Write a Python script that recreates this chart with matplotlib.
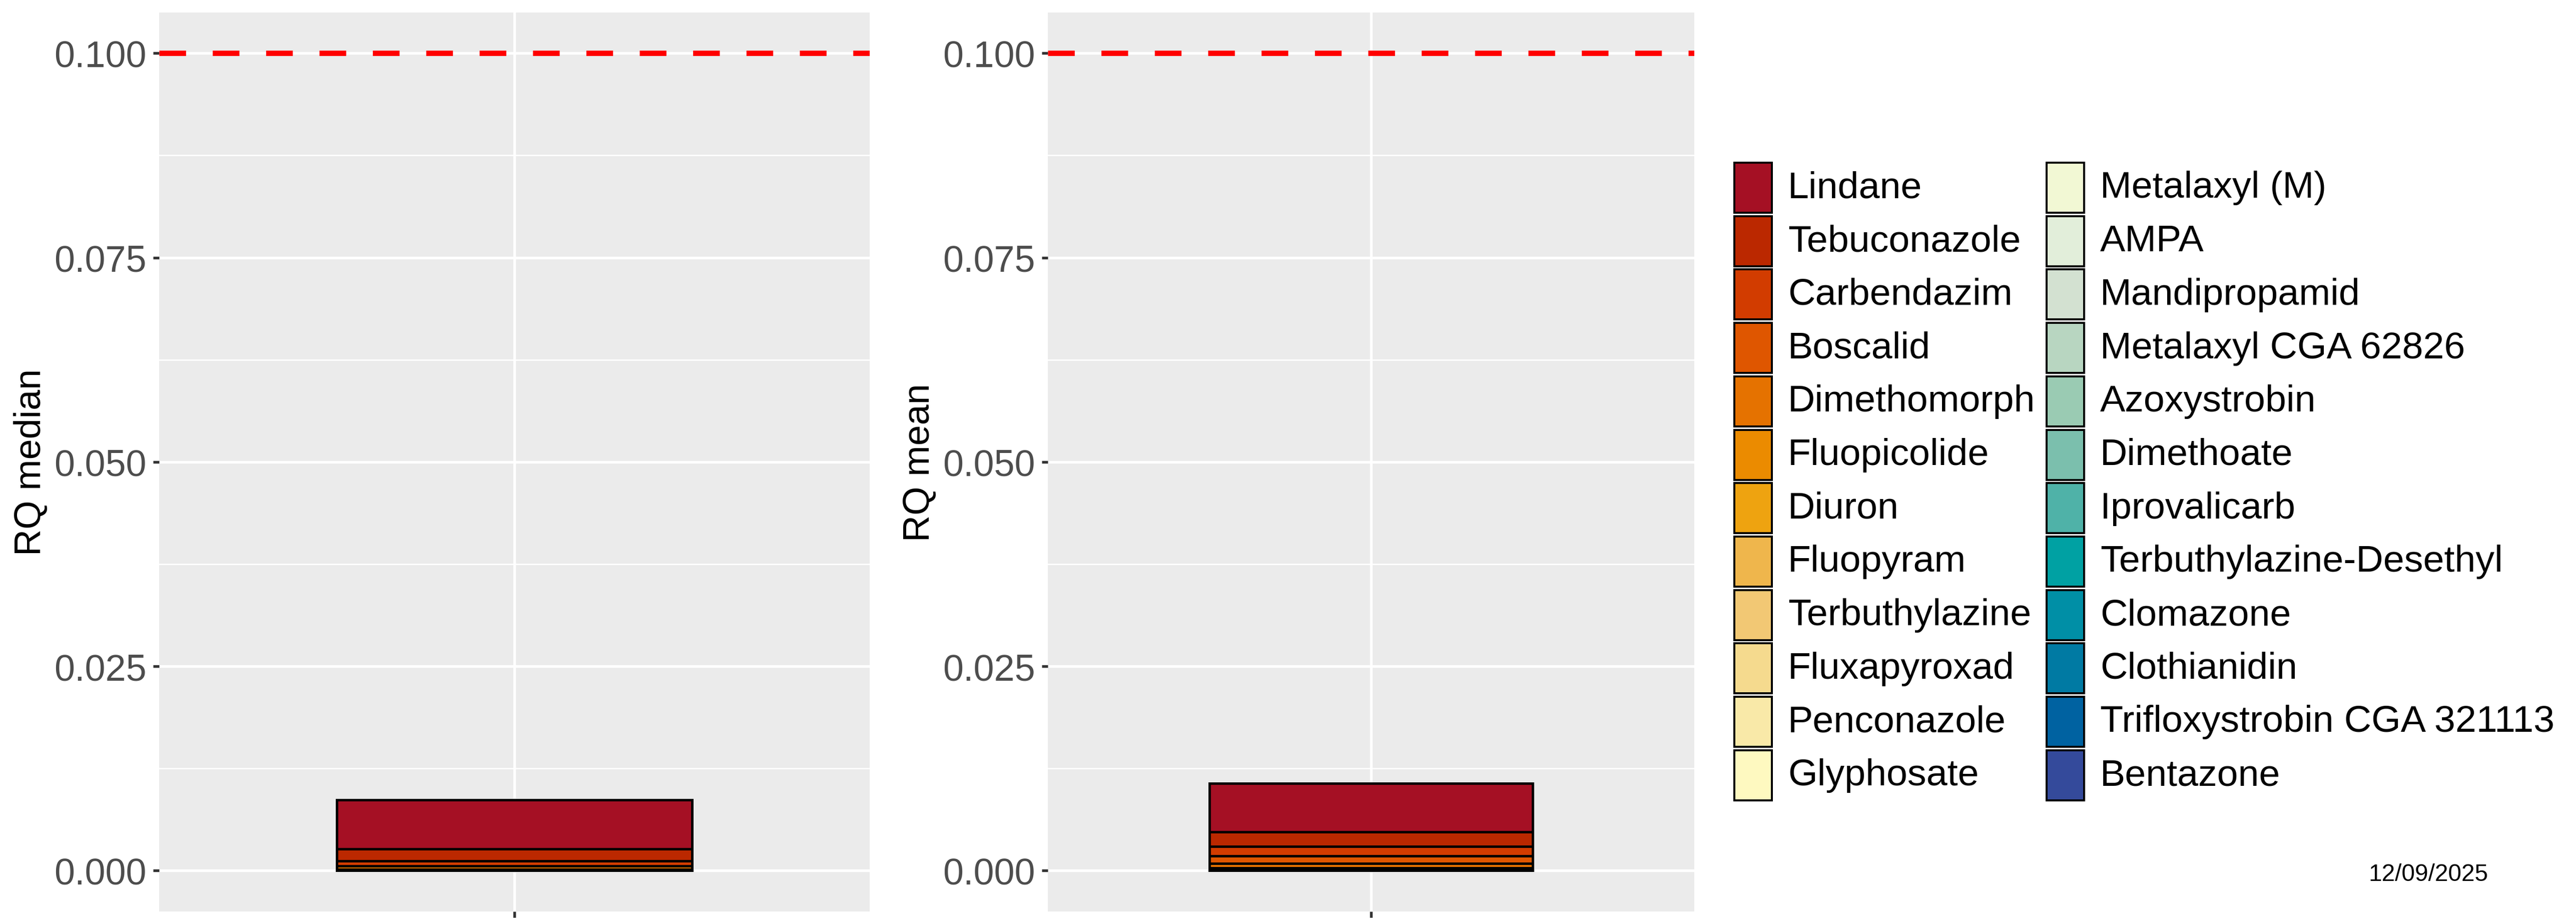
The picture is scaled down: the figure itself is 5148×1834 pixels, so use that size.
import numpy as np
import matplotlib.pyplot as plt
from matplotlib.patches import Rectangle

plt.rcParams['font.family'] = ['Liberation Sans', 'DejaVu Sans']

# legend order (top of the stack first)
compounds = [
    "Lindane", "Tebuconazole", "Carbendazim", "Boscalid", "Dimethomorph",
    "Fluopicolide", "Diuron", "Fluopyram", "Terbuthylazine", "Fluxapyroxad",
    "Penconazole", "Glyphosate", "Metalaxyl (M)", "AMPA", "Mandipropamid",
    "Metalaxyl CGA 62826", "Azoxystrobin", "Dimethoate", "Iprovalicarb",
    "Terbuthylazine-Desethyl", "Clomazone", "Clothianidin",
    "Trifloxystrobin CGA 321113", "Bentazone",
]
colours = [
    "#A51024", "#BB2800", "#D23C00", "#DF5600", "#E57200",
    "#EB8B00", "#EEA310", "#EFB64C", "#F2C874", "#F5DA8E",
    "#F9E9A8", "#FEF9C0", "#F2F8D4", "#E2EEDA", "#D3E1D1",
    "#B8D6C1", "#9ACBB3", "#7BBFAD", "#4FB2A8", "#00A1A3",
    "#008FA6", "#007AA3", "#0062A1", "#344A9B",
]
rq_median = [
    0.00602, 0.00149, 0.00061, 0.0, 0.00043,
    0.00007, 0.00003, 0.00002, 0.00001, 0.0,
    0.0, 0.0, 0.0, 0.0, 0.0,
    0.0, 0.0, 0.0, 0.0, 0.0,
    0.0, 0.0, 0.0, 0.0,
]
rq_mean = [
    0.00591, 0.001775, 0.001145, 0.000918, 0.000594,
    0.00011, 0.00006, 0.00004, 0.00003, 0.00002,
    0.000015, 0.00001, 0.000006, 0.000005, 0.000004,
    0.000003, 0.000002, 0.000001, 0.000001, 0.000001,
    0.000001, 0.000001, 0.000001, 0.000001,
]
threshold = 0.1
y_ticks = [0.0, 0.025, 0.05, 0.075, 0.1]
y_tick_labels = ["0.000", "0.025", "0.050", "0.075", "0.100"]
y_minor = [0.0125, 0.0375, 0.0625, 0.0875]
date_label = "12/09/2025"

W, H = 5148, 1835
fig = plt.figure(figsize=(W / 300, H / 300), dpi=300)


def box(x0, y0, x1, y1):
    # pixel box (top-left origin) -> figure fraction rect
    return [x0 / W, 1 - y1 / H, (x1 - x0) / W, (y1 - y0) / H]


def panel(rect_px, values, ylabel):
    ax = fig.add_axes(box(*rect_px))
    ax.set_facecolor("#EBEBEB")
    ax.set_axisbelow(True)
    bottom = 0.0
    for col, v in reversed(list(zip(colours, values))):
        if v <= 0:
            continue
        ax.bar(1, v, width=0.6, bottom=bottom, color=col,
               edgecolor="black", linewidth=1.2, zorder=2)
        bottom += v
    ax.axhline(threshold, color="red", lw=2.56, ls=(0, (5, 5)),
               dash_capstyle="butt", zorder=3)
    ax.set_xlim(0.4, 1.6)
    ax.set_ylim(-0.005, 0.105)
    ax.set_xticks([1])
    ax.set_xticklabels([""])
    ax.set_yticks(y_ticks)
    ax.set_yticklabels(y_tick_labels)
    ax.set_yticks(y_minor, minor=True)
    ax.grid(which="major", color="white", lw=1.28)
    ax.grid(which="minor", axis="y", color="white", lw=0.64)
    ax.tick_params(which="major", length=2.95, width=1.3, color="#333333",
                   labelsize=17.7, labelcolor="#4D4D4D", pad=3.2)
    ax.tick_params(which="minor", length=0)
    for s in ax.spines.values():
        s.set_visible(False)
    ax.set_ylabel(ylabel, fontsize=17.7, color="black")
    ax.yaxis.set_label_coords(-222 / (rect_px[2] - rect_px[0]), 0.5)
    return ax


ax1 = panel((318, 25.7, 1738, 1822), rq_median, "RQ median")
ax2 = panel((2094, 25.7, 3386, 1822), rq_mean, "RQ mean")

# legend, two columns of 12
pitch = 106.7
key_w, key_h = 75, 100
for i, (name, col) in enumerate(zip(compounds, colours)):
    c, r = divmod(i, 12)
    kx = [3466, 4090][c]
    tx = [3573, 4197][c]
    ky = 326 + r * pitch
    fig.patches.append(Rectangle((kx / W, 1 - (ky + key_h) / H), key_w / W, key_h / H,
                                 transform=fig.transFigure, facecolor=col,
                                 edgecolor="black", lw=0.96))
    fig.text(tx / W, 1 - (ky + key_h / 2) / H, name, ha="left", va="center",
             fontsize=18.1, color="black")

fig.text(4853 / W, 1 - 1748 / H, date_label, ha="center", va="center",
         fontsize=11.5, color="black")

fig.savefig("out.png", dpi=300)
